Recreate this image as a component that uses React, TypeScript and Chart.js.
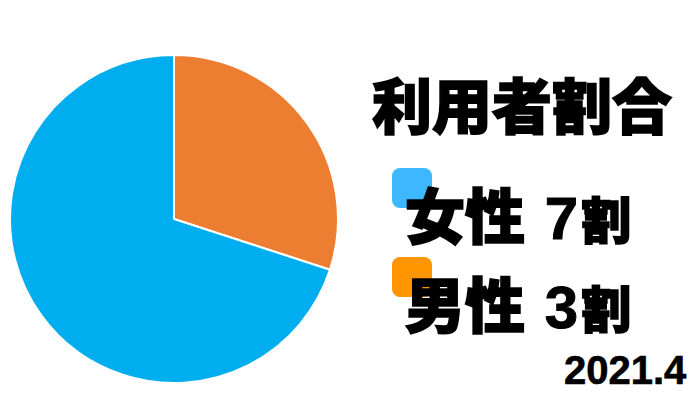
import { useEffect, useRef } from 'react';
import { Chart, registerables } from 'chart.js';

Chart.register(...registerables);

// slices are drawn clockwise from 12 o'clock
const labels = ['男性', '女性'];
const values = [3, 7]; // 割
const pieColors = ['#ED7D31', '#00AEEF'];
const legendColors = ['#FF9500', '#3DB8FF'];
const title = '利用者割合';
const dateLabel = '2021.4';

const jp = '"Noto Sans CJK JP", "Noto Sans", sans-serif';
const latin = '"Liberation Sans", Arial, sans-serif';
// only the Bold cut is installed, so thicken strokes a little
const heavy = { WebkitTextStroke: '1.6px #000' } as const;

function LegendRow({ idx, top }: { idx: number; top: number }) {
  return (
    <>
      <div
        style={{
          position: 'absolute',
          left: 392,
          top: top - 15,
          width: 40,
          height: 40,
          borderRadius: 8,
          background: legendColors[idx],
        }}
      />
      <div
        style={{
          position: 'absolute',
          left: 405,
          top,
          fontFamily: jp,
          fontWeight: 900,
          fontSize: 60,
          lineHeight: 1,
          whiteSpace: 'nowrap',
          color: '#000',
          ...heavy,
        }}
      >
        <span>{labels[idx]}</span>
        <span> </span>
        <span style={{ fontFamily: latin, fontWeight: 700, fontSize: 60, lineHeight: 1, marginLeft: 6, WebkitTextStroke: '1px #000' }}>
          {values[idx]}
        </span>
        <span style={{ fontSize: 50, lineHeight: 1, marginLeft: 3 }}>割</span>
      </div>
    </>
  );
}

export default function App() {
  const canvasRef = useRef<HTMLCanvasElement>(null);
  const chartRef = useRef<Chart | null>(null);

  useEffect(() => {
    document.body.style.margin = '0';
    if (!canvasRef.current) return;
    if (chartRef.current) chartRef.current.destroy();

    chartRef.current = new Chart(canvasRef.current, {
      type: 'pie',
      data: {
        labels,
        datasets: [
          {
            data: values,
            backgroundColor: pieColors,
            borderColor: '#ffffff',
            borderWidth: 2,
          },
        ],
      },
      options: {
        responsive: true,
        maintainAspectRatio: false,
        animation: false,
        layout: { padding: 0 },
        plugins: {
          legend: { display: false },
          tooltip: { enabled: false },
        },
      },
    });

    return () => {
      if (chartRef.current) {
        chartRef.current.destroy();
        chartRef.current = null;
      }
    };
  }, []);

  return (
    <div style={{ position: 'relative', width: 700, height: 400, background: '#fff', overflow: 'hidden' }}>
      <div style={{ position: 'absolute', left: 9, top: 54, width: 330, height: 330 }}>
        <canvas ref={canvasRef}></canvas>
      </div>
      <div
        style={{
          position: 'absolute',
          left: 372,
          top: 73,
          fontFamily: jp,
          fontWeight: 900,
          fontSize: 60,
          lineHeight: 1,
          whiteSpace: 'nowrap',
          color: '#000',
          ...heavy,
        }}
      >
        {title}
      </div>
      {/* legend lists 女性 first */}
      <LegendRow idx={1} top={183} />
      <LegendRow idx={0} top={272} />
      <div
        style={{
          position: 'absolute',
          left: 564,
          top: 350,
          fontFamily: latin,
          fontWeight: 700,
          fontSize: 40,
          lineHeight: 1,
          whiteSpace: 'nowrap',
          color: '#000',
          WebkitTextStroke: '0.6px #000',
        }}
      >
        {dateLabel}
      </div>
    </div>
  );
}
